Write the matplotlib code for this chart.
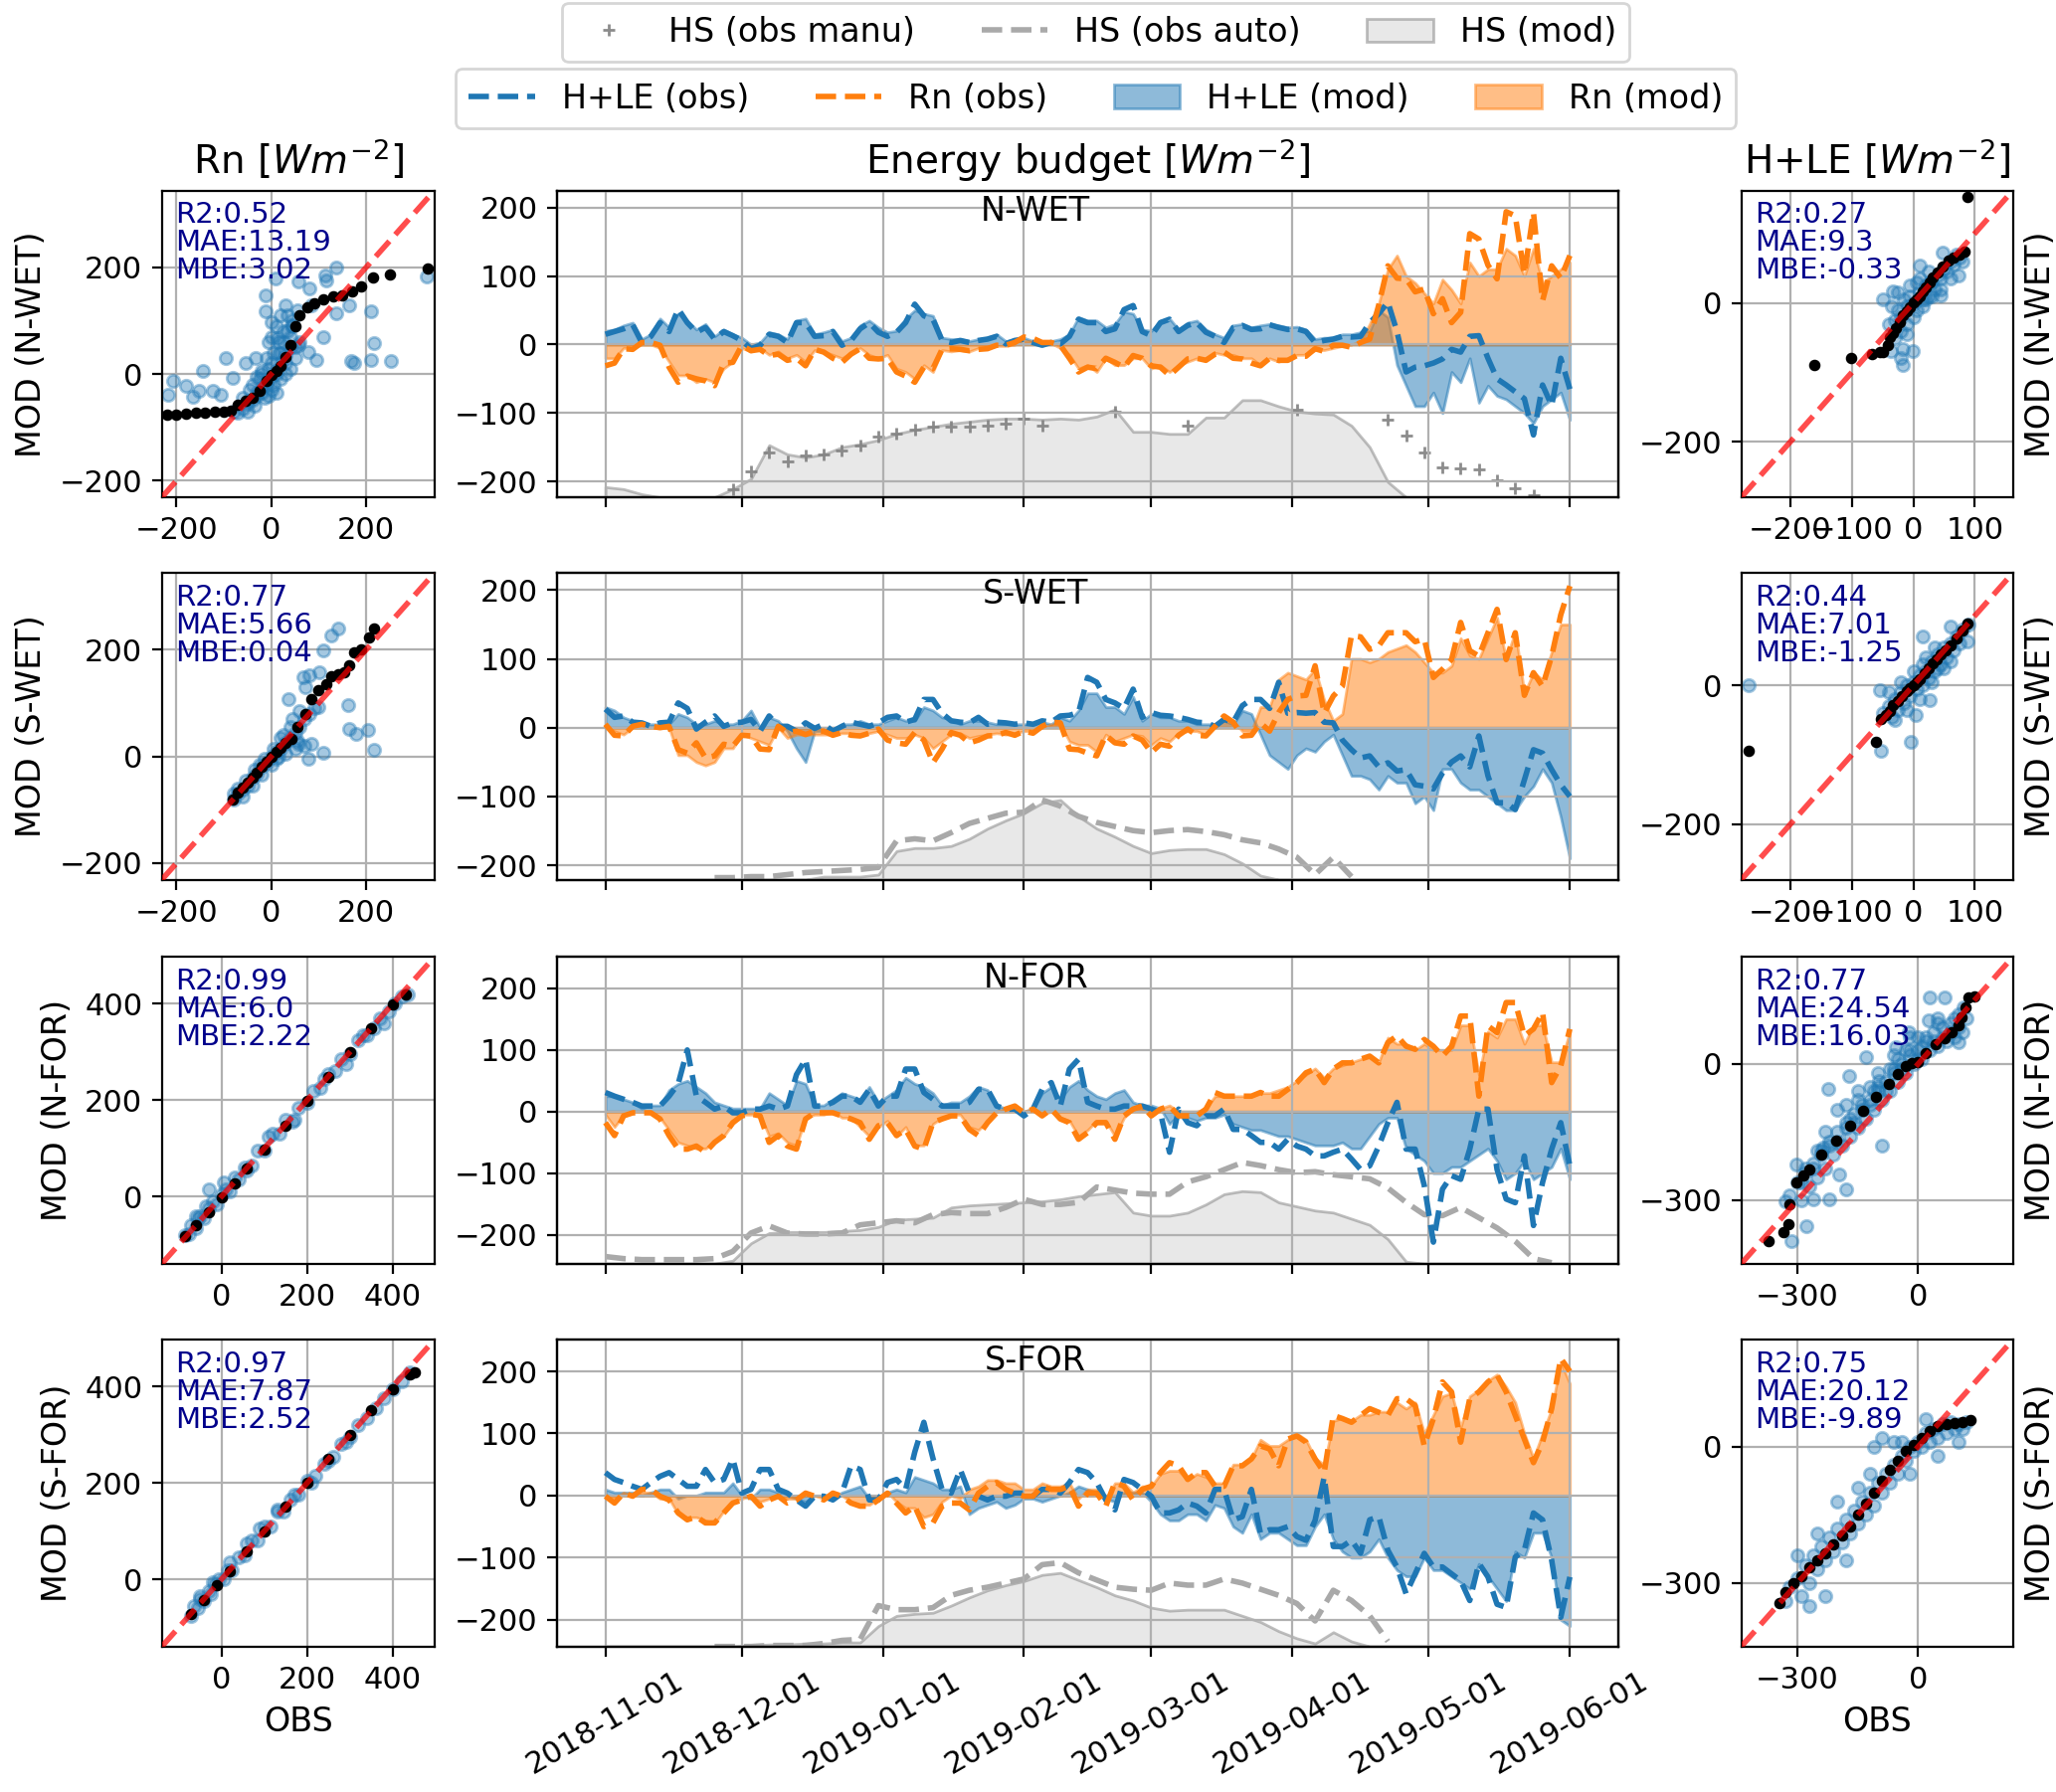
import numpy as np
import pandas as pd
import matplotlib.pyplot as plt
import matplotlib.dates as mdates

plt.rcParams["font.size"] = 11

nan = np.nan

# ---- sites and time axes
sites = ["N-WET", "S-WET", "N-FOR", "S-FOR"]
dates = pd.date_range("2018-11-01", "2019-06-01", freq="2D")     # energy budget
dates_hs = pd.date_range("2018-11-01", "2019-06-01", freq="4D")  # snow depth

# ---- energy budget [W m-2] (H+LE shown with opposite sign)
hle_obs_nwet = [15, 19, 23, 29, 3, 12, 32, 19, 52, 32, 18, 25, 8, 19, 13, 6, -6, -1, 15, 12, 3, 32, 32, 12, 13, 19,
                -1, 6, 23, 32, 18, 12, 18, 32, 59, 42, 37, 6, 3, 6, 3, 6, 8, 12, 1, 6, 8, 3, -1, 3, 1, 12, 37, 32, 32,
                19, 23, 51, 57, 19, 13, 32, 37, 19, 28, 32, 18, 12, 3, 25, 28, 22, 23, 29, 25, 22, 23, 19, 3, 6, 8, 12,
                11, 12, 32, 45, 62, 19, -40, -33, -31, -27, -21, -7, -11, 12, 13, -20, -50, -59, -69, -79, -132, -59,
                -89, -20, -65]
hle_mod_nwet = [20, 22, 28, 32, 8, 15, 38, 25, 45, 35, 22, 30, 12, 22, 15, 10, 0, 3, 18, 15, 8, 35, 38, 15, 18, 22,
                5, 10, 28, 35, 25, 18, 20, 38, 50, 45, 42, 10, 8, 8, 5, 8, 10, 15, 5, 8, 10, 5, 3, 5, 8, 15, 40, 35, 35,
                25, 30, 48, 45, 22, 20, 35, 38, 22, 32, 35, 22, 15, 10, 28, 30, 25, 28, 30, 28, 25, 26, 22, 8, 10, 10,
                15, 15, 18, 20, 50, 40, -30, -60, -90, -90, -70, -100, -40, -55, -20, -85, -60, -75, -80, -90, -100,
                -115, -90, -80, -70, -110]
rn_obs_nwet = [-31, -27, -6, -7, 3, 3, -1, -33, -55, -46, -50, -53, -60, -27, -26, -1, -9, -7, -16, -14, -23, -20, -31,
               -7, -11, -20, -26, -14, -6, -20, -21, -20, -40, -46, -55, -33, -35, -7, -6, -7, -9, -7, -6, -1, -1, 3,
               11, 9, 3, 3, -1, -20, -40, -33, -35, -20, -26, -33, -16, -20, -31, -33, -45, -33, -21, -20, -23, -14,
               -11, -20, -21, -27, -31, -20, -23, -23, -16, -17, -6, -10, -1, -1, -4, 3, 8, 58, 115, 97, 96, 77, 81,
               45, 67, 32, 47, 162, 154, 116, 96, 194, 188, 103, 193, 64, 115, 97, 130]
rn_mod_nwet = [-20, -20, -5, -5, 0, 0, -5, -25, -45, -45, -55, -50, -55, -35, -25, -5, -10, -5, -15, -10, -20, -15,
               -25, -8, -10, -15, -20, -12, -5, -15, -20, -15, -35, -40, -50, -30, -40, -8, -10, -8, -10, -5, -5, -2,
               -2, 0, 5, 5, 2, 2, -5, -15, -35, -30, -40, -20, -30, -30, -20, -20, -35, -30, -40, -30, -25, -20, -20,
               -12, -15, -15, -20, -20, -30, -20, -25, -20, -15, -15, -8, -8, -5, -2, 0, 5, 30, 60, 110, 130, 100, 90,
               75, 60, 95, 80, 60, 120, 100, 110, 110, 140, 130, 100, 140, 90, 100, 110, 120]

hle_obs_swet = [27, 15, 17, 8, 7, 2, 7, 8, 36, 28, -2, 8, 17, 2, 7, 8, 12, -5, 17, 2, 2, -5, 7, -1, 5, -5, 2, 8, 5, 2,
                7, 15, 17, 8, 12, 41, 41, 21, 10, 8, 7, 15, 5, 8, 7, 5, 7, 5, 10, 8, 17, 18, 22, 73, 66, 41, 36, 28,
                56, 15, 22, 18, 17, 15, 12, 8, 7, 2, 12, 8, 32, 41, 41, 28, 66, 21, 22, 21, 22, 8, 7, -18, -32, -44,
                -41, -57, -51, -63, -61, -83, -85, -89, -66, -50, -41, -57, -12, -70, -109, -109, -119, -76, -32, -37,
                -61, -83, -100]
hle_mod_swet = [30, 25, 15, 10, 5, 5, 5, 5, 20, 15, 5, 5, 10, 5, 5, 10, 25, 0, 15, 10, -5, -30, -50, -5, -5, -5, 5, 5,
                10, 5, 5, 10, 15, 10, 10, 30, 25, 15, 12, 5, 10, 10, 8, 5, 5, 5, 5, 5, 8, 5, 15, 10, 25, 50, 50, 30, 30,
                20, 45, 10, 20, 15, 15, 10, 10, 5, 5, 5, 10, 5, 25, 20, -10, -40, -50, -60, -40, -30, -35, -20, -10,
                -40, -70, -70, -75, -90, -70, -80, -80, -110, -100, -120, -60, -60, -80, -90, -90, -100, -110, -120,
                -120, -100, -85, -60, -80, -130, -190]
rn_obs_swet = [5, -11, -12, 2, 5, 2, 0, 2, -32, -37, -22, -44, -41, -24, -27, -11, -12, -31, -32, 2, -7, -5, -10, -5,
               -5, -11, -7, -11, -12, -8, -2, -18, -22, -24, -7, -18, -51, -31, -7, -11, -22, -18, -12, -11, -7, -11,
               -5, -8, 2, 8, 7, -31, -32, -37, -41, -11, -22, -24, -12, -18, -36, -24, -27, -11, -2, -11, -12, 2, 17,
               8, -12, -11, 7, -5, 22, 41, 46, 47, 90, 21, 46, 60, 134, 132, 114, 119, 138, 138, 138, 125, 129, 73,
               85, 99, 153, 112, 104, 138, 172, 99, 138, 47, 80, 60, 104, 164, 206]
rn_mod_swet = [0, -5, -10, 0, 0, 0, 0, 0, -40, -40, -50, -55, -50, -30, -30, -10, -15, -20, -25, 0, -15, -10, -10,
               -10, -10, -10, -8, -8, -10, -8, -5, -10, -15, -15, -10, -15, -30, -20, -10, -8, -15, -12, -10, -8, -10,
               -8, -5, -5, 0, 5, 5, -20, -25, -25, -35, -10, -20, -15, -10, -12, -25, -15, -20, -8, -5, -5, -10, 5,
               15, 10, -5, -5, 30, 30, 70, 80, 75, 70, 85, 40, 10, 20, 100, 100, 95, 100, 110, 115, 120, 110, 95, 80,
               80, 90, 130, 105, 100, 130, 160, 100, 140, 50, 80, 70, 110, 150, 150]

hle_obs_nfor = [31, 25, 20, 15, 9, 9, 9, 25, 45, 100, 25, 15, 4, 9, -2, -2, 4, 4, 9, 4, 9, 60, 85, 9, 9, 15, 25, 25,
                15, 36, 9, 25, 25, 69, 69, 31, 20, 9, 9, 9, 15, 36, 36, 9, 4, 4, -7, 4, 36, 47, 9, 69, 85, 15, 9, 4, 4,
                9, 9, 9, 4, -2, -66, 4, -18, -23, -7, -7, 4, -29, -29, -39, -50, -50, -61, -45, -56, -61, -72, -72,
                -66, -61, -77, -94, -88, -56, -18, 15, -61, -61, -120, -212, -126, -104, -110, -61, 4, 4, -94, -142,
                -148, -72, -185, -115, -61, -18, -88]
hle_mod_nfor = [25, 25, 20, 15, 5, 10, 10, 35, 45, 50, 40, 30, 15, 10, 5, 5, 5, 5, 30, 20, 10, 50, 45, 10, 10, 20, 30,
                25, 20, 40, 15, 25, 35, 55, 45, 40, 30, 10, 15, 15, 25, 40, 35, 10, 5, 5, 0, 5, 30, 40, 20, 40, 50, 35,
                25, 20, 30, 35, 15, 10, 10, 5, -20, -5, -10, -15, -10, -10, -5, -20, -25, -30, -30, -35, -40, -40, -45,
                -50, -55, -55, -55, -50, -60, -60, -40, -20, -10, -10, -60, -70, -80, -100, -100, -90, -90, -80, -70,
                -60, -80, -110, -100, -80, -110, -100, -90, -60, -110]
rn_obs_nfor = [-18, -39, -7, -2, -2, -2, -12, -39, -61, -61, -56, -66, -50, -39, -18, -7, -4, -7, -50, -39, -56, -61,
               -12, -2, -2, -2, -7, -12, -18, -45, -23, -18, -39, -29, -56, -61, -18, -12, -7, -7, -29, -39, -18, -2,
               4, 9, -2, 4, -7, 4, -12, -18, -45, -34, -18, -18, -45, -7, 4, 9, -7, 4, 9, -7, -7, -7, 4, 31, 25, 25,
               25, 25, 31, 25, 25, 36, 47, 63, 69, 47, 69, 79, 79, 85, 90, 79, 112, 123, 106, 101, 117, 106, 90, 106,
               155, 155, 25, 139, 128, 177, 177, 123, 134, 161, 47, 74, 134]
rn_mod_nfor = [-5, -25, -5, 0, 0, 0, -10, -30, -50, -55, -60, -60, -50, -40, -20, -5, -5, -5, -40, -35, -50, -55, -10,
               -5, -5, 0, -10, -10, -25, -40, -25, -15, -40, -25, -55, -55, -20, -10, -5, -5, -25, -30, -15, 0, 5, 5,
               0, 5, -5, 0, -10, -15, -40, -30, -15, -15, -40, -10, 5, 5, -5, 5, 10, 0, 0, 0, 5, 25, 25, 25, 25, 25,
               30, 30, 35, 40, 50, 60, 70, 55, 70, 75, 80, 85, 90, 80, 120, 110, 110, 100, 110, 100, 100, 100, 140,
               140, 60, 130, 120, 150, 150, 110, 140, 140, 80, 80, 130]

hle_obs_sfor = [37, 26, 21, 15, 10, 21, 31, 37, 26, 15, 15, 42, 21, 26, 59, 4, 10, 42, 42, 10, 4, -7, -17, -1, -1, -7,
                4, 48, 42, -7, -7, 21, 26, 10, 70, 118, 60, 10, 4, 42, 4, -1, -7, -1, -1, 4, 4, -1, 10, 10, 4, 21, 42,
                37, 21, -7, -23, 26, 21, 10, -1, -28, -28, -23, -12, -17, -28, 10, 10, -39, -34, 10, -61, -55, -55,
                -50, -66, -72, -40, 30, -82, -82, -72, -93, -39, -34, -88, -115, -158, -126, -93, -115, -115, -126,
                -137, -169, -109, -131, -175, -180, -99, -88, -28, -39, -104, -196, -131]
hle_mod_sfor = [10, 5, 5, 5, 0, 5, 10, 10, -5, 0, 0, 5, 5, 5, 20, 0, -5, 10, 10, 5, 0, -5, -10, 0, 0, -5, 5, 10, 15,
                -5, -5, 5, 10, 5, 30, 25, 20, 10, 10, 15, -30, -20, -15, -10, -20, -15, -5, -5, -10, -5, 0, 5, 15, 10,
                5, -5, -10, 5, 5, 5, -10, -30, -40, -40, -30, -30, -40, -15, -20, -50, -60, -30, -70, -60, -60, -70,
                -80, -80, -50, -30, -70, -90, -100, -100, -90, -70, -100, -120, -130, -130, -100, -120, -120, -130,
                -140, -150, -110, -130, -150, -170, -90, -100, -60, -60, -100, -200, -210]
rn_obs_sfor = [-1, -12, 4, -1, 10, 10, -1, -7, -28, -39, -34, -44, -44, -28, -12, -7, -1, -17, -7, -1, -12, -7, 4, -1,
               -7, 4, -1, -12, -17, -17, -7, 4, -12, -28, -17, -50, -44, -17, -12, -12, -23, 4, 15, 21, 10, 4, -1, -1,
               15, 10, 10, 15, -17, 4, 4, -17, 21, 15, -7, 10, 15, 37, 53, 48, 26, 37, 37, 15, 15, 48, 48, 59, 80, 75,
               48, 91, 96, 86, 59, 37, 129, 124, 118, 129, 140, 134, 129, 156, 156, 145, 80, 124, 183, 167, 86, 156,
               167, 183, 194, 167, 129, 91, 53, 86, 140, 221, 200]
rn_mod_sfor = [0, -5, 5, 0, 5, 5, -5, -5, -30, -35, -35, -40, -45, -25, -10, -5, 0, -10, -5, 0, -5, -5, 0, 0, -5, 5, 0,
               -10, -15, -15, -5, 5, -10, -20, -20, -35, -30, -10, 0, -5, 10, 15, 25, 25, 20, 20, 10, 10, 20, 15, 15,
               20, -5, 10, 10, -5, 20, 20, 5, 15, 15, 35, 40, 40, 25, 35, 30, 20, 20, 50, 50, 60, 90, 80, 80, 90, 100,
               90, 60, 50, 120, 125, 120, 130, 130, 135, 135, 150, 140, 150, 100, 130, 160, 165, 110, 160, 170, 185,
               195, 175, 150, 100, 60, 100, 140, 215, 180]

# ---- snow depth HS [cm]
hs_mod_nwet = [10, 8, 3, 0, 0, 0, 0, 8, 18, 51, 42, 39, 42, 49, 52, 56, 62, 66, 69, 72, 74, 76, 77, 77, 76, 77, 76,
               79, 86, 64, 64, 62, 62, 78, 78, 95, 95, 89, 84, 82, 81, 70, 49, 15, 0, 0, 0, 0, 0, 0, 0, 0, 0, 0]
hs_manu_nwet = [nan, nan, nan, nan, nan, nan, nan, 8, 25, 44, 35, 41, 42, 46, 51, 59, 62, 66, 69, 69, 69, 70, 72, 77,
                70, nan, nan, nan, 84, nan, nan, nan, 70, nan, nan, nan, nan, nan, 86, nan, nan, nan, nan, 76, 60, 44,
                29, 28, 27, 17, 9, 2, nan, nan]
hs_mod_swet = [0, 0, 0, 0, 0, 0, 0, 0, 0, 0, 0, 0, 3, 3, 3, 5, 28, 31, 31, 33, 40, 50, 58, 65, 75, 78, 62, 50, 42, 33,
               26, 29, 30, 30, 25, 16, 4, 0, 0, 0, 0, 0, 0, 0, 0, 0, 0, 0, 0, 0, 0, 0, 0, 0]
hs_auto_swet = [nan, nan, nan, nan, nan, nan, 2, 2, 3, 3, 5, 7, 8, 9, 10, 12, 38, 40, 38, 46, 55, 60, 65, 66, 78, 72,
                62, 56, 52, 48, 46, 48, 49, 47, 44, 39, 36, 30, 22, 5, 22, 3, nan, nan, nan, nan, nan, nan, nan, nan,
                nan, nan, nan, nan]
hs_mod_nfor = [0, 0, 0, 0, 0, 0, 0, 3, 20, 30, 31, 31, 31, 32, 33, 36, 43, 44, 45, 55, 57, 58, 59, 60, 61, 63, 66, 68,
               70, 50, 47, 47, 50, 58, 68, 71, 70, 60, 56, 52, 50, 44, 38, 24, 2, 0, 0, 0, 0, 0, 0, 0, 0, 0]
hs_auto_nfor = [7, 5, 4, 4, 4, 4, 5, 12, 30, 37, 30, 29, 29, 30, 38, 40, 42, 40, 48, 50, 49, 49, 55, 63, 58, 58, 60,
                75, 72, 69, 68, 68, 80, 85, 92, 99, 96, 92, 89, 90, 87, 85, 83, 74, 60, 48, 47, 55, 45, 35, 22, 5, 1,
                nan]
hs_mod_sfor = [0, 0, 0, 0, 0, 0, 0, 0, 1, 2, 2, 3, 3, 4, 4, 20, 30, 32, 33, 40, 48, 55, 60, 64, 70, 72, 65, 58, 50,
               45, 38, 35, 36, 36, 36, 30, 24, 15, 8, 3, 14, 5, 0, 0, 0, 0, 0, 0, 0, 0, 0, 0, 0, 0]
hs_auto_sfor = [nan, nan, nan, nan, nan, nan, 0, 0, 0, 1, 1, 1, 3, 6, 7, 40, 36, 36, 38, 50, 55, 58, 62, 66, 80, 82,
                72, 65, 58, 56, 55, 62, 60, 60, 66, 62, 56, 50, 42, 25, 55, 45, 30, 5, nan, nan, nan, nan, nan, nan,
                nan, nan, nan, nan]

# ---- Rn scatter (OBS vs MOD) and quantile points
rn_sc_obs_nwet = [-207, -218, -179, -166, -152, -145, -124, -106, -96, -82, -54, -33, -13, -13, 1, 8, 57, 81, 113,
                  137, 116, 137, 95, 109, 168, 175, 210, 252, 217, 210, 165, 328, 85, 43, 29, 12, 57, 78,
                  -70, -60, -50, -40, -30, -20, -10, 0, 10, 20, 30, 40, -60, -45, -25, -5, 15, 25, 35, 5, 20, 40,
                  -35, -15, 0, 30, 50, 60, -80, -5, 10, 20, -20, 45, 55, -50, -10, -30,
                  -40, -20, 0, 20, 40, -30, -10, 10, 30, 50, -50, -20, 5, 25, 45, 15, 35, -5, 0, 10]
rn_sc_mod_nwet = [-12, -39, -23, -42, -32, 5, -32, -39, 30, -7, 20, 30, 148, 117, 98, 179, 173, 160, 185, 200, 176,
                  114, 27, 70, 24, 20, 27, 24, 58, 117, 129, 182, 129, 92, 129, 67, 55, 42,
                  -72, -65, -55, -48, -35, -25, -15, -5, 5, 20, 35, 50, -45, -30, -10, 10, 40, 60, 80, -20, -10, 10,
                  -60, -45, -30, 0, 30, 60, -70, 60, 90, 110, 5, 100, 120, -70, 30, -5,
                  -20, 0, 20, 40, 70, -40, -20, 0, 20, 50, -50, -35, 40, 80, 90, 60, 110, -40, 70, -35]
rn_qq_obs_nwet = [-220, -200, -180, -160, -140, -120, -100, -85, -70, -55, -40, -25, -10, 0, 10, 20, 30, 40, 50, 60,
                  75, 90, 110, 130, 150, 170, 190, 215, 250, 330]
rn_qq_mod_nwet = [-77, -76, -74, -73, -72, -71, -70, -68, -58, -50, -44, -32, -12, -2, 6, 15, 32, 55, 90, 110, 125,
                  132, 140, 146, 148, 155, 165, 181, 186, 198]

rn_sc_obs_swet = [141, 127, 109, 67, 81, 102, 71, 36, 161, 165, 179, 203, 217, 109, 78, 99, 57, 85,
                  -80, -70, -60, -50, -40, -30, -20, -10, 0, 10, 20, 30, 40, 50, 60, 70, 80, -70, -55, -35, -15, 5,
                  20, 40, 60, 10, 30, 50, 70, -60, -40, -20, 0, 25, 45, 90, -80, -25, 15, 55]
rn_sc_mod_swet = [240, 226, 199, 148, 153, 157, 130, 107, 97, 51, 42, 50, 13, 7, -4, 93, 24, 24,
                  -80, -70, -62, -55, -40, -32, -20, -12, 0, 8, 15, 25, 35, 45, 55, 70, 80, -60, -45, -25, -5, 15,
                  35, 55, 85, -5, 5, 15, 20, -75, -55, -35, -15, 40, 70, 90, -70, -15, 0, 30]
rn_qq_obs_swet = [-82, -70, -60, -50, -40, -30, -20, -10, 0, 10, 20, 30, 43, 55, 71, 85, 100, 115, 127, 140, 154, 165,
                  175, 190, 207, 217]
rn_qq_mod_swet = [-80, -68, -58, -49, -40, -30, -20, -10, 0, 8, 17, 25, 33, 55, 79, 107, 125, 135, 150, 155, 157, 170,
                  195, 200, 223, 239]

rn_sc_obs_nfor = [-85, -75, -70, -60, -55, -50, -40, -35, -30, -20, -10, 0, 10, 20, 30, 40, 55, 70, 85, 100, 120, 135,
                  150, 165, 180, 200, 215, 230, 250, 265, 280, 300, 320, 340, 355, 370, 390, 405, 420, 435, -60, -30,
                  5, 60, 110, 170, 240, 290, 330, 380]
rn_sc_mod_nfor = [-80, -78, -60, -65, -45, -40, -45, -20, -25, -10, -15, 5, 15, 10, 40, 35, 60, 65, 95, 95, 130, 130,
                  160, 155, 185, 195, 220, 225, 255, 260, 285, 295, 325, 335, 350, 370, 385, 400, 415, 420, -40, 15,
                  30, 55, 125, 160, 245, 275, 335, 360]
rn_qq_obs_nfor = [-85, -60, -30, 0, 30, 60, 100, 150, 200, 250, 300, 350, 400, 430]
rn_qq_mod_nfor = [-82, -60, -32, -2, 28, 58, 98, 148, 198, 248, 300, 350, 398, 420]

rn_sc_obs_sfor = [-70, -65, -55, -50, -40, -30, -25, -15, -5, 5, 15, 25, 40, 55, 70, 85, 100, 115, 130, 145, 160, 180,
                  200, 220, 240, 260, 280, 300, 320, 340, 360, 380, 400, 420, 440, -50, -20, 20, 60, 90, 130, 170,
                  210, 250, 290]
rn_sc_mod_sfor = [-75, -55, -60, -40, -45, -25, -30, -10, 0, 0, 20, 20, 45, 50, 80, 80, 110, 110, 140, 140, 165, 175,
                  205, 215, 240, 255, 280, 295, 320, 335, 355, 375, 395, 410, 430, -35, -5, 35, 75, 105, 145, 175,
                  200, 245, 285]
rn_qq_obs_sfor = [-70, -40, -10, 20, 60, 100, 150, 200, 250, 300, 350, 400, 440, 450]
rn_qq_mod_sfor = [-72, -42, -12, 18, 58, 100, 150, 200, 250, 300, 350, 395, 425, 430]

# ---- H+LE scatter (OBS vs MOD) and quantile points
hle_sc_obs_nwet = [-49, -33, 10, 47, 73, 44, -17, -1, -36, -20, -17, 26,
                   -40, -30, -25, -20, -15, -10, -5, 0, 5, 10, 15, 20, 25, 30, 35, 40, 45, 50, 55, 60, 65, 70, 75,
                   -35, -25, -5, 10, 25, -10, 0, 15, 30, 45, 60, 80, -20, -30, -10, 5, 20]
hle_sc_mod_nwet = [5, 16, 54, 73, 40, 11, -66, -70, -70, -80, -90, 30,
                   -30, -25, -10, -20, 5, -5, 10, 0, -10, 15, 5, 25, 10, 30, 20, 40, 35, 50, 45, 60, 55, 70, 65,
                   -5, 15, 25, 35, 45, -30, -20, -5, 10, 20, 35, 60, -40, -50, -45, 30, 5]
hle_qq_obs_nwet = [-161, -102, -68, -55, -49, -42, -38, -33, -28, -22, -17, -10, -5, 0, 5, 10, 15, 20, 26, 32, 40, 48,
                   57, 65, 75, 84, 89]
hle_qq_mod_nwet = [-89, -80, -73, -71, -71, -60, -49, -43, -37, -28, -18, -12, -6, 1, 5, 10, 16, 22, 30, 36, 44, 52,
                   61, 66, 70, 74, 153]

hle_sc_obs_swet = [-268, -4, -52, -54, 15, 60, 89, 4, 26,
                   -50, -40, -35, -30, -25, -20, -15, -10, -5, 0, 5, 10, 15, 20, 25, 30, 35, 40, 45, 50, 55, 60, 65,
                   70, 75, 80, 90, -20, 0, 20, 40, -40, -10, 10, 30, 50, -30, 60, 35, 15]
hle_sc_mod_swet = [0, -82, -94, -7, 71, 85, 64, -43, -21,
                   -40, -30, -45, -20, -35, -10, -25, 0, -15, 5, -5, 15, 0, 20, 10, 35, 20, 45, 30, 55, 40, 60, 50,
                   70, 60, 80, 88, 5, 20, 40, 25, -10, -35, -20, 5, 25, -50, 35, 55, 30]
hle_qq_obs_swet = [-268, -60, -52, -45, -38, -33, -25, -18, -10, -5, 0, 5, 10, 18, 25, 31, 38, 45, 52, 60, 70, 80, 89]
hle_qq_mod_swet = [-94, -82, -48, -43, -37, -28, -22, -15, -9, -4, 0, 4, 9, 17, 24, 32, 38, 44, 50, 57, 68, 79, 89]

hle_sc_obs_nfor = [-315, -278, -331, -261, -220, -179, -196, -89, -302, -237, -224, -171, -130, -56, 30, 67, 113, 100,
                   26, -23, -97,
                   -320, -300, -290, -280, -270, -260, -250, -240, -230, -220, -210, -200, -190, -180, -170, -160,
                   -150, -140, -130, -120, -110, -100, -90, -80, -70, -60, -50, -40, -30, -20, -10, 0, 10, 20, 30, 40,
                   50, 60, 70, 80, 90, 100, 110, 120, -200, -150, -100, -50, 0, 50, -250, -180, -120, -60, -20,
                   -280, -260, -240, -220, -200, -180, -160, -140, -120, -100, -80, -60, -40, -20, 0, 20, 40, 60, 80,
                   100, -230, -170, -110, -70, -30, 10, 50, 90, -290, -150]
hle_sc_mod_nfor = [-390, -357, -303, -298, -298, -276, -244, -179, -222, -184, -54, -27, 16, 38, 146, 146, 125, 49,
                   97, 70, -38,
                   -290, -260, -300, -240, -270, -220, -250, -200, -230, -180, -200, -150, -180, -140, -160, -110,
                   -140, -100, -120, -80, -100, -60, -80, -40, -60, -20, -40, 0, -20, 20, 0, 30, 10, 50, 30, 70, 40,
                   80, 50, 90, 60, 80, 70, 100, -100, -60, -20, 10, 60, 90, -190, -90, -50, 20, 60,
                   -230, -230, -190, -170, -170, -130, -130, -90, -90, -50, -60, -10, -10, 30, 10, 60, 50, 60, 70,
                   110, -150, -120, -60, -10, 30, 40, 100, 100, -260, -80]
hle_qq_obs_nfor = [-372, -335, -323, -319, -302, -285, -270, -240, -204, -170, -138, -105, -72, -50, -31, -15, 0, 20,
                   43, 65, 84, 100, 108, 118, 125, 141]
hle_qq_mod_nfor = [-390, -371, -352, -309, -260, -245, -233, -200, -168, -135, -103, -72, -43, -22, -5, 2, 5, 25, 43,
                   58, 70, 85, 103, 125, 146, 150]

hle_sc_obs_sfor = [-330, -320, -300, -290, -280, -270, -260, -250, -240, -230, -220, -210, -200, -190, -180, -170,
                   -160, -150, -140, -130, -120, -110, -100, -90, -80, -70, -60, -50, -40, -30, -20, -10, 0, 10, 20,
                   30, 40, 50, 60, 70, 80, 90, 100, 110, 120, -110, -90, -60, -120, -150, -200, -250, -300, -270,
                   -230, -180, -40, 20, -20, 50, 100]
hle_sc_mod_sfor = [-340, -310, -290, -330, -260, -300, -240, -270, -220, -250, -200, -230, -180, -210, -160, -190,
                   -140, -170, -120, -150, -100, -130, -80, -100, -60, -80, -40, -60, -20, -30, 0, -10, 10, 0, 30,
                   10, 40, 20, 50, 30, 55, 40, 50, 40, 55, 0, 20, 10, -60, -90, -120, -190, -240, -350, -330, -250,
                   10, 60, -60, -20, 10]
hle_qq_obs_sfor = [-345, -330, -310, -290, -270, -250, -230, -210, -190, -170, -150, -130, -110, -90, -70, -50, -30,
                   -10, 10, 30, 50, 70, 90, 110, 130]
hle_qq_mod_sfor = [-345, -320, -300, -285, -265, -250, -235, -215, -195, -175, -150, -125, -100, -75, -50, -30, -10,
                   5, 20, 35, 45, 50, 52, 55, 58]

# ---- scores
r2_rn = [0.52, 0.77, 0.99, 0.97]
mae_rn = [13.19, 5.66, 6.0, 7.87]
mbe_rn = [3.02, 0.04, 2.22, 2.52]
r2_hle = [0.27, 0.44, 0.77, 0.75]
mae_hle = [9.3, 7.01, 24.54, 20.12]
mbe_hle = [-0.33, -1.25, 16.03, -9.89]

# ---- grouped per row
hle_obs = [hle_obs_nwet, hle_obs_swet, hle_obs_nfor, hle_obs_sfor]
hle_mod = [hle_mod_nwet, hle_mod_swet, hle_mod_nfor, hle_mod_sfor]
rn_obs = [rn_obs_nwet, rn_obs_swet, rn_obs_nfor, rn_obs_sfor]
rn_mod = [rn_mod_nwet, rn_mod_swet, rn_mod_nfor, rn_mod_sfor]
hs_mod = [hs_mod_nwet, hs_mod_swet, hs_mod_nfor, hs_mod_sfor]
hs_auto = [None, hs_auto_swet, hs_auto_nfor, hs_auto_sfor]
hs_manu = [hs_manu_nwet, None, None, None]
rn_sc = [(rn_sc_obs_nwet, rn_sc_mod_nwet, rn_qq_obs_nwet, rn_qq_mod_nwet),
         (rn_sc_obs_swet, rn_sc_mod_swet, rn_qq_obs_swet, rn_qq_mod_swet),
         (rn_sc_obs_nfor, rn_sc_mod_nfor, rn_qq_obs_nfor, rn_qq_mod_nfor),
         (rn_sc_obs_sfor, rn_sc_mod_sfor, rn_qq_obs_sfor, rn_qq_mod_sfor)]
hle_sc = [(hle_sc_obs_nwet, hle_sc_mod_nwet, hle_qq_obs_nwet, hle_qq_mod_nwet),
          (hle_sc_obs_swet, hle_sc_mod_swet, hle_qq_obs_swet, hle_qq_mod_swet),
          (hle_sc_obs_nfor, hle_sc_mod_nfor, hle_qq_obs_nfor, hle_qq_mod_nfor),
          (hle_sc_obs_sfor, hle_sc_mod_sfor, hle_qq_obs_sfor, hle_qq_mod_sfor)]

# ---- layout
bottoms = [0.7225, 0.5091, 0.2948, 0.0812]
height = 0.1712
rn_lims = [(-231, 344), (-231, 344), (-139, 497), (-139, 497)]
rn_ticks = [[-200, 0, 200], [-200, 0, 200], [0, 200, 400], [0, 200, 400]]
hle_lims = [(-280, 162), (-280, 162), (-440, 236), (-440, 236)]
hle_xticks = [[-200, -100, 0, 100], [-200, -100, 0, 100], [-300, 0], [-300, 0]]
hle_yticks = [[-200, 0], [-200, 0], [-300, 0], [-300, 0]]
eb_lims = [(-223, 225), (-221, 225), (-247, 251), (-243, 251)]


def scatter_panel(ax, data, lims, xticks, yticks, score):
    obs, mod, qq_obs, qq_mod = data
    ax.scatter(obs, mod, s=20, color="C0", alpha=0.4, zorder=2)
    ax.scatter(qq_obs, qq_mod, s=10, color="k", zorder=3)
    ax.plot(lims, lims, "--", color="red", alpha=0.7, lw=2, zorder=4)
    ax.set_xlim(lims)
    ax.set_ylim(lims)
    ax.set_xticks(xticks)
    ax.set_yticks(yticks)
    ax.grid(True)
    ax.text(0.05, 0.965, "R2:%s\nMAE:%s\nMBE:%s" % score, transform=ax.transAxes,
            va="top", ha="left", color="darkblue", fontsize=10.5, linespacing=1.0)


fig = plt.figure(figsize=(10.335, 9.01), dpi=200)

for r, site in enumerate(sites):
    # ---- Rn scatter
    axl = fig.add_axes([0.0787, bottoms[r], 0.1326, height])
    scatter_panel(axl, rn_sc[r], rn_lims[r], rn_ticks[r], rn_ticks[r], (r2_rn[r], mae_rn[r], mbe_rn[r]))
    axl.set_ylabel("MOD (%s)" % site, fontsize=12)

    # ---- H+LE scatter
    axr = fig.add_axes([0.8469, bottoms[r], 0.1321, height])
    scatter_panel(axr, hle_sc[r], hle_lims[r], hle_xticks[r], hle_yticks[r],
                  (r2_hle[r], mae_hle[r], mbe_hle[r]))
    axr.set_ylabel("MOD (%s)" % site, fontsize=12)
    axr.yaxis.set_label_position("right")

    # ---- energy budget time series, snow on a hidden twin axis
    ax = fig.add_axes([0.2710, bottoms[r], 0.5160, height])
    ax2 = ax.twinx()
    ax.set_zorder(ax2.get_zorder() + 1)
    ax.patch.set_visible(False)

    f_hs = ax2.fill_between(dates_hs, 0, hs_mod[r], facecolor="lightgrey", edgecolor="grey", alpha=0.5, lw=1)
    if hs_auto[r] is not None:
        l_auto, = ax2.plot(dates_hs, hs_auto[r], "--", color="darkgrey", lw=2)
    if hs_manu[r] is not None:
        l_manu, = ax2.plot(dates_hs, hs_manu[r], "+", color="grey", ms=4, alpha=0.9)
    ax2.set_ylim(0, 300)
    ax2.set_yticks([])

    f_hle = ax.fill_between(dates, 0, hle_mod[r], color="C0", alpha=0.5)
    f_rn = ax.fill_between(dates, 0, rn_mod[r], color="C1", alpha=0.5)
    l_hle, = ax.plot(dates, hle_obs[r], "--", color="C0", lw=2)
    l_rn, = ax.plot(dates, rn_obs[r], "--", color="C1", lw=2)
    ax.set_ylim(eb_lims[r])
    ax.set_yticks([-200, -100, 0, 100, 200])
    ax.grid(True)
    ax.xaxis.set_major_locator(mdates.MonthLocator())
    ax.xaxis.set_major_formatter(mdates.DateFormatter("%Y-%m-%d"))
    ax.text(0.451, 0.985, site, transform=ax.transAxes, ha="center", va="top", fontsize=12)

    if r == 0:
        axl.set_title("Rn [$Wm^{-2}$]", fontsize=14)
        axr.set_title("H+LE [$Wm^{-2}$]", fontsize=14)
        ax.set_title("Energy budget [$Wm^{-2}$]", fontsize=14)
        h_manu, h_hsmod = l_manu, f_hs
        flux_handles = [l_hle, l_rn, f_hle, f_rn]
    if r == 1:
        h_auto = l_auto
    if r < 3:
        ax.set_xticklabels([])
    else:
        ax.tick_params(axis="x", labelrotation=30)
        axl.set_xlabel("OBS", fontsize=12)
        axr.set_xlabel("OBS", fontsize=12)

fig.legend([h_manu, h_auto, h_hsmod], ["HS (obs manu)", "HS (obs auto)", "HS (mod)"],
           loc="center", bbox_to_anchor=(0.533, 0.982), ncol=3, fontsize=12)
fig.legend(flux_handles, ["H+LE (obs)", "Rn (obs)", "H+LE (mod)", "Rn (mod)"],
           loc="center", bbox_to_anchor=(0.533, 0.945), ncol=4, fontsize=12)

fig.savefig("out.png", dpi=200)
